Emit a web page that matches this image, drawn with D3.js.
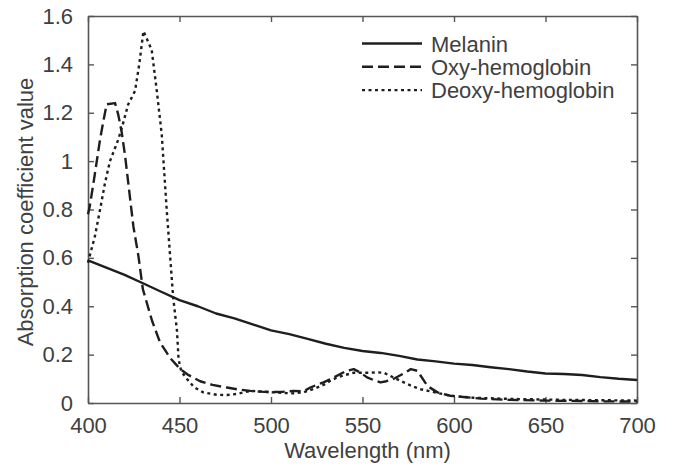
<!DOCTYPE html>
<html>
<head>
<meta charset="utf-8">
<script src="https://cdn.jsdelivr.net/npm/d3@7"></script>
<style>
  html, body { margin: 0; padding: 0; background: #fff; }
  svg { display: block; }
  text { font-family: "Liberation Sans", Arial, Helvetica, sans-serif; fill: #404040; }
</style>
</head>
<body>
<svg id="chart" width="675" height="474"></svg>
<script>
// ---- data ----
const seriesNames = ["Melanin", "Oxy-hemoglobin", "Deoxy-hemoglobin"];

const melaninWl  = [400,410,420,430,440,450,460,470,480,490,500,510,520,530,540,550,560,570,580,590,600,610,620,630,640,650,660,670,680,690,700];
const melaninVal = [0.59,0.56,0.53,0.495,0.46,0.425,0.40,0.37,0.35,0.325,0.30,0.285,0.265,0.245,0.228,0.215,0.207,0.195,0.18,0.172,0.163,0.157,0.148,0.14,0.13,0.122,0.12,0.116,0.107,0.10,0.095];

const oxyWl  = [400,401,403,406.6,408.4,410.2,414.8,416.6,418.4,420.3,422,424.8,427.5,430,435,439.4,445,450.4,455,461.3,468,475.9,482,488.7,494,499.6,506,512.4,517.8,521.5,525,528.7,533,537.9,541,545.2,549,552.5,556,559.8,563,567.1,572,576.4,580,585.5,591,598,605,615,630,650,680,700];
const oxyVal = [0.78,0.815,0.91,1.09,1.165,1.235,1.24,1.19,1.12,1.02,0.91,0.73,0.61,0.47,0.34,0.25,0.185,0.14,0.115,0.09,0.075,0.064,0.056,0.05,0.047,0.045,0.046,0.05,0.048,0.064,0.075,0.085,0.10,0.12,0.132,0.14,0.125,0.106,0.095,0.085,0.09,0.10,0.12,0.14,0.133,0.07,0.044,0.03,0.025,0.018,0.013,0.01,0.007,0.006];

const deoxyWl  = [400,401,403.8,406.6,409.3,412,416.6,419.3,422,425.7,428,430.3,432.5,434.8,437.6,440.3,443,446.5,448.6,449.5,451,454,458,463,470.3,476,481,488.7,494,499.6,506,512,518,524,528.7,532,536,540,545.2,550,554.3,558,561.6,567.1,572.6,577,581.7,589,598,610,630,660,700];
const deoxyVal = [0.58,0.61,0.69,0.80,0.91,1.0,1.09,1.16,1.235,1.29,1.40,1.537,1.50,1.46,1.29,1.11,0.80,0.44,0.30,0.18,0.13,0.10,0.065,0.044,0.034,0.033,0.037,0.05,0.048,0.045,0.042,0.04,0.045,0.06,0.075,0.09,0.105,0.115,0.125,0.125,0.125,0.127,0.125,0.105,0.085,0.07,0.057,0.045,0.03,0.022,0.017,0.013,0.01];

const xTicks = [400,450,500,550,600,650,700];
const xTickLabels = ["400","450","500","550","600","650","700"];
const yTicks = [0,0.2,0.4,0.6,0.8,1,1.2,1.4,1.6];
const yTickLabels = ["0","0.2","0.4","0.6","0.8","1","1.2","1.4","1.6"];

// ---- layout ----
const L = 88, R = 637, T = 16, B = 403;
const svg = d3.select("#chart");

const x = d3.scaleLinear().domain([400, 700]).range([L, R]);
const y = d3.scaleLinear().domain([0, 1.6]).range([B, T]);

const axisColor = "#555";
const fontSize = 22;

function styleAxis(g) {
  g.selectAll(".domain").attr("stroke", axisColor).attr("stroke-width", 1.6);
  g.selectAll(".tick line").attr("stroke", axisColor).attr("stroke-width", 1.4);
  g.selectAll(".tick text").attr("font-size", fontSize).attr("fill", "#404040")
    .style("font-family", '"Liberation Sans", Arial, sans-serif');
}

// bottom axis
svg.append("g").attr("transform", `translate(0,${B})`)
  .call(d3.axisBottom(x).tickValues(xTicks).tickSizeInner(-6).tickSizeOuter(0).tickPadding(14)
        .tickFormat((d, i) => xTickLabels[i]))
  .call(styleAxis);
// top axis (ticks only)
svg.append("g").attr("transform", `translate(0,${T})`)
  .call(d3.axisTop(x).tickValues(xTicks).tickSizeInner(-6).tickSizeOuter(0).tickFormat(""))
  .call(styleAxis);
// left axis
svg.append("g").attr("transform", `translate(${L},0)`)
  .call(d3.axisLeft(y).tickValues(yTicks).tickSizeInner(-6).tickSizeOuter(0).tickPadding(15)
        .tickFormat((d, i) => yTickLabels[i]))
  .call(styleAxis);
// right axis (ticks only)
svg.append("g").attr("transform", `translate(${R},0)`)
  .call(d3.axisRight(y).tickValues(yTicks).tickSizeInner(-6).tickSizeOuter(0).tickFormat(""))
  .call(styleAxis);

// ---- lines ----
const line = d3.line().x(d => x(d[0])).y(d => y(d[1]));
const series = [
  { name: seriesNames[0], wl: melaninWl, val: melaninVal, dash: null },
  { name: seriesNames[1], wl: oxyWl, val: oxyVal, dash: "11,5" },
  { name: seriesNames[2], wl: deoxyWl, val: deoxyVal, dash: "3,3.5" }
];

const plot = svg.append("g");
series.forEach(s => {
  const pts = s.wl.map((w, i) => [w, s.val[i]]);
  plot.append("path")
    .attr("d", line(pts))
    .attr("fill", "none")
    .attr("stroke", "#1e1e1e")
    .attr("stroke-width", 2.4)
    .attr("stroke-linejoin", "round")
    .attr("stroke-dasharray", s.dash);
});

// ---- legend ----
const legend = svg.append("g");
series.forEach((s, i) => {
  const cy = 43.5 + i * 23.3;
  legend.append("line")
    .attr("x1", 362).attr("x2", 422).attr("y1", cy).attr("y2", cy)
    .attr("stroke", "#1e1e1e").attr("stroke-width", 2.4)
    .attr("stroke-dasharray", s.dash);
  legend.append("text")
    .attr("x", 431).attr("y", cy + 8)
    .attr("font-size", fontSize)
    .text(s.name);
});

// ---- axis titles ----
svg.append("text")
  .attr("x", (L + R) / 2 + 5).attr("y", 458)
  .attr("text-anchor", "middle")
  .attr("font-size", fontSize)
  .text("Wavelength (nm)");

svg.append("text")
  .attr("transform", `translate(33,212) rotate(-90)`)
  .attr("text-anchor", "middle")
  .attr("font-size", fontSize)
  .text("Absorption coefficient value");
</script>
</body>
</html>
